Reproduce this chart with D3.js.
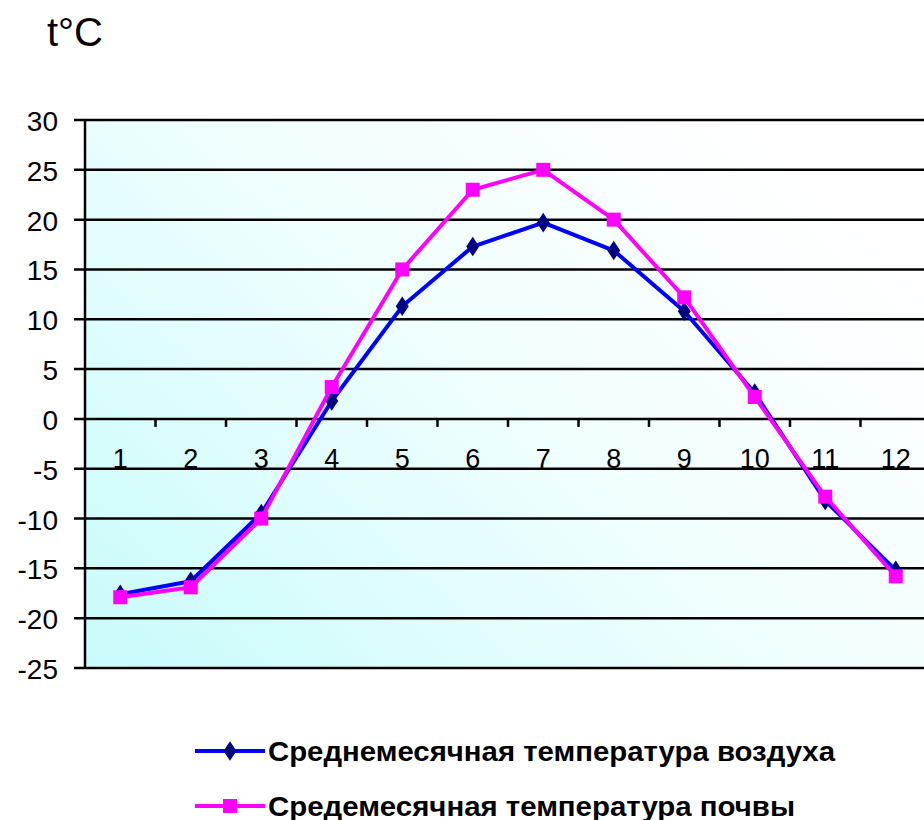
<!DOCTYPE html>
<html><head><meta charset="utf-8">
<script src="https://cdn.jsdelivr.net/npm/d3@7"></script>
<style>html,body{margin:0;padding:0;background:#fff;}svg{display:block;}</style>
</head><body>
<svg id="c" width="924" height="820"></svg>
<script>
const months = ["1","2","3","4","5","6","7","8","9","10","11","12"];
const airTemp = [-17.6, -16.3, -9.5, 1.8, 11.3, 17.3, 19.7, 16.9, 10.8, 2.6, -8.2, -15.2];
const soilTemp = [-17.9, -16.9, -10.0, 3.2, 15.0, 23.0, 25.0, 20.0, 12.2, 2.2, -7.8, -15.8];
const yTicks = [30, 25, 20, 15, 10, 5, 0, -5, -10, -15, -20, -25];
const seriesNames = ["Среднемесячная температура воздуха", "Средемесячная температура почвы"];

(function () {
const svg = d3.select("#c");
const pLeft = 85, pTop = 120, pBottom = 668, bandW = 70.5;
const x = d3.scaleBand().domain(months).range([pLeft, pLeft + bandW * 12]).paddingInner(0).paddingOuter(0);
const y = d3.scaleLinear().domain([-25, 30]).range([pBottom, pTop]);
const plotRight = 924;
const font = "Liberation Sans, Arial, sans-serif";

const defs = svg.append("defs");
const g = defs.append("linearGradient").attr("id", "bg").attr("x1", "0").attr("y1", "1").attr("x2", "1").attr("y2", "0.3");
g.append("stop").attr("offset", "0").attr("stop-color", "#c8fbfb");
g.append("stop").attr("offset", "0.55").attr("stop-color", "#effefe");
g.append("stop").attr("offset", "1").attr("stop-color", "#ffffff");

svg.append("rect").attr("x", pLeft).attr("y", pTop).attr("width", plotRight - pLeft).attr("height", pBottom - pTop).attr("fill", "url(#bg)");

svg.append("g").selectAll("line").data(yTicks).join("line")
  .attr("x1", pLeft - 11).attr("x2", plotRight)
  .attr("y1", d => y(d)).attr("y2", d => y(d))
  .attr("stroke", "#000").attr("stroke-width", 2.5);

svg.append("line").attr("x1", pLeft).attr("x2", pLeft).attr("y1", pTop).attr("y2", pBottom)
  .attr("stroke", "#000").attr("stroke-width", 2.5);

svg.append("g").selectAll("text").data(yTicks).join("text")
  .attr("x", 58).attr("y", d => y(d) + 11)
  .attr("text-anchor", "end")
  .attr("font-family", font).attr("font-size", 28)
  .text(d => d);

const boundaries = months.slice(1).map(m => x(m));
svg.append("g").selectAll("line").data(boundaries).join("line")
  .attr("x1", d => d).attr("x2", d => d)
  .attr("y1", y(0)).attr("y2", y(0) + 8)
  .attr("stroke", "#000").attr("stroke-width", 2.5);

svg.append("g").selectAll("text").data(months).join("text")
  .attr("x", d => x(d) + x.bandwidth() / 2).attr("y", y(0) + 49)
  .attr("text-anchor", "middle")
  .attr("font-family", font).attr("font-size", 27)
  .text(d => d);

const cx = d => x(d) + x.bandwidth() / 2;
const line = d3.line().x((d, i) => cx(months[i])).y(d => y(d));

svg.append("path").datum(airTemp).attr("d", line).attr("fill", "none")
  .attr("stroke", "#0000ff").attr("stroke-width", 4).attr("stroke-linejoin", "round");
svg.append("g").selectAll("path").data(airTemp).join("path")
  .attr("d", d3.symbol(d3.symbolDiamond, 110))
  .attr("transform", (d, i) => `translate(${cx(months[i])},${y(d)}) scale(1.15,1)`)
  .attr("fill", "#000080");

svg.append("path").datum(soilTemp).attr("d", line).attr("fill", "none")
  .attr("stroke", "#ff00ff").attr("stroke-width", 4).attr("stroke-linejoin", "round");
svg.append("g").selectAll("rect").data(soilTemp).join("rect")
  .attr("x", (d, i) => cx(months[i]) - 7).attr("y", d => y(d) - 7)
  .attr("width", 14).attr("height", 14).attr("fill", "#ff00ff");

svg.append("text").attr("x", 47).attr("y", 46)
  .attr("font-family", font).attr("font-size", 40)
  .text("t°C");

const legY = [751, 806];
const legColors = ["#0000ff", "#ff00ff"];
const legWidths = [567, 527];
legY.forEach((ly, i) => {
  svg.append("line").attr("x1", 195).attr("x2", 265).attr("y1", ly).attr("y2", ly)
    .attr("stroke", legColors[i]).attr("stroke-width", 4);
  if (i === 0) {
    svg.append("path").attr("d", d3.symbol(d3.symbolDiamond, 110))
      .attr("transform", `translate(230,${ly}) scale(1.15,1)`).attr("fill", "#000080");
  } else {
    svg.append("rect").attr("x", 223).attr("y", ly - 7).attr("width", 14).attr("height", 14).attr("fill", "#ff00ff");
  }
  svg.append("text").attr("x", 268).attr("y", ly + 10)
    .attr("font-family", font).attr("font-size", 27).attr("font-weight", "bold")
    .attr("textLength", legWidths[i]).attr("lengthAdjust", "spacingAndGlyphs")
    .text(seriesNames[i]);
});
})();
</script>
</body></html>
